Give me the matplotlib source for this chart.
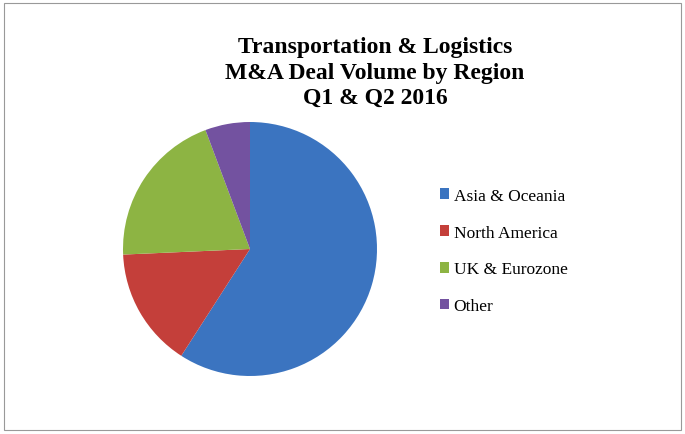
import matplotlib.pyplot as plt
from matplotlib.patches import Rectangle

# Deal volume share by region
regions = ['Asia & Oceania', 'North America', 'UK & Eurozone', 'Other']
shares = [59.1, 15.2, 20.0, 5.7]
colors = ['#3B74C0', '#C43F3A', '#8DB443', '#7352A0']

plt.rcParams['font.family'] = ['Liberation Serif', 'DejaVu Serif']

fig = plt.figure(figsize=(6.85, 4.35), dpi=100)

# outer chart border
fig.patches.append(Rectangle((4 / 685, 4 / 435), 677 / 685, 427 / 435,
                             transform=fig.transFigure, fill=False,
                             edgecolor='#999999', linewidth=0.8))

# pie axes: centre ~(250,250) px, radius ~127 px
r = 127
ax = fig.add_axes([(250 - r) / 685, (435 - 250 - r) / 435, 2 * r / 685, 2 * r / 435])
wedges, _ = ax.pie(shares, colors=colors, startangle=90, counterclock=False,
                   radius=1, wedgeprops=dict(linewidth=0))
ax.set_xlim(-1, 1)
ax.set_ylim(-1, 1)
ax.set_aspect('equal')

fig.text(375 / 685, 1 - 73 / 435, 'Transportation & Logistics\nM&A Deal Volume by Region\nQ1 & Q2 2016',
         ha='center', va='center', fontsize=17, fontweight='bold', linespacing=1.3)

leg = fig.legend(wedges, regions, loc='center left',
                 bbox_to_anchor=(424 / 685, 1 - 252 / 435),
                 frameon=False, fontsize=12.5, labelspacing=1.2,
                 handlelength=0.55, handleheight=0.55, handletextpad=0.25)

plt.savefig('out.png', dpi=100)
